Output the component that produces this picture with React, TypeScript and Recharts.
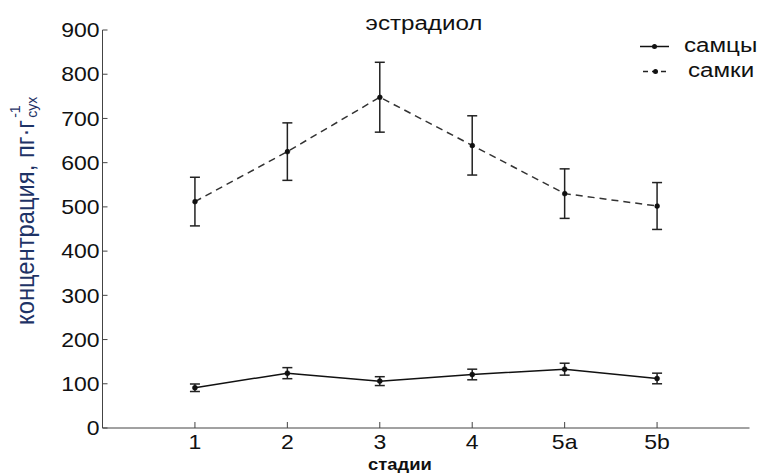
import React from 'react';
import { LineChart, Line, XAxis, YAxis, ErrorBar, Customized } from 'recharts';

// Estradiol concentration by developmental stage
const stages = ['1', '2', '3', '4', '5a', '5b'];
const malesMean = [91, 124, 106, 121, 133, 112];
const malesErr = [8.5, 12.5, 10, 12, 13.5, 12];
const femalesMean = [512, 625, 748, 639, 530, 502];
const femalesErr = [55, 65, 79, 67, 56, 53];
const yTicks = [0, 100, 200, 300, 400, 500, 600, 700, 800, 900];

const data = stages.map((s, i) => ({
  pos: i + 1,
  stage: s,
  males: malesMean[i],
  malesErr: malesErr[i],
  females: femalesMean[i],
  femalesErr: femalesErr[i],
}));

const FONT = 'Arial, "Liberation Sans", sans-serif';
const STRETCH = 1.15;
const AXIS = '#444';

const YTick = (props: any) => {
  const { x, y, payload } = props;
  return (
    <g>
      <line x1={x + 3} x2={x + 8} y1={y} y2={y} stroke={AXIS} strokeWidth={1} />
      <text
        transform={`translate(${x},${y}) scale(${STRETCH},1)`}
        textAnchor="end"
        dy="0.36em"
        fontSize={20}
        fontFamily={FONT}
        fill="#111"
      >
        {payload.value}
      </text>
    </g>
  );
};

const XTick = (props: any) => {
  const { x, y, payload } = props;
  const label = stages[payload.value - 1] ?? '';
  return (
    <g>
      <line x1={x} x2={x} y1={y} y2={y - 6} stroke={AXIS} strokeWidth={1} />
      <text
        transform={`translate(${x},${y + 21}) scale(${STRETCH},1)`}
        textAnchor="middle"
        fontSize={20}
        fontFamily={FONT}
        fill="#111"
      >
        {label}
      </text>
    </g>
  );
};

const Decorations = () => (
  <g>
    {/* title */}
    <text
      transform={`translate(424,29.5) scale(${STRETCH},1)`}
      textAnchor="middle"
      fontSize={21}
      fontFamily={FONT}
      fill="#111"
    >
      эстрадиол
    </text>

    {/* legend */}
    <line x1={640} x2={669} y1={46.5} y2={46.5} stroke="#111" strokeWidth={1.5} />
    <circle cx={654.5} cy={46.5} r={2.5} fill="#111" />
    <text
      transform={`translate(684,52) scale(${STRETCH},1)`}
      fontSize={21}
      fontFamily={FONT}
      fill="#111"
    >
      самцы
    </text>
    <line x1={643} x2={668} y1={71.5} y2={71.5} stroke="#222" strokeWidth={1.5} strokeDasharray="5 4" />
    <circle cx={655.5} cy={71.5} r={2.5} fill="#111" />
    <text
      transform={`translate(688,77) scale(${STRETCH},1)`}
      fontSize={21}
      fontFamily={FONT}
      fill="#111"
    >
      самки
    </text>

    {/* y axis title */}
    <g transform={`translate(34,120) rotate(-90) scale(1.08,${STRETCH})`} fontFamily={FONT} fill="#1e3366">
      <text x={0} y={0} textAnchor="end" fontSize={22}>
        концентрация, пг·г
      </text>
      <text x={2} y={-12} fontSize={13}>-1</text>
      <text x={2} y={3} fontSize={13}>сух</text>
    </g>

    {/* x axis title */}
    <text
      transform={`translate(400,470) scale(${STRETCH},1)`}
      textAnchor="middle"
      fontSize={16}
      fontWeight="bold"
      fontFamily={FONT}
      fill="#111"
    >
      стадии
    </text>
  </g>
);

export default function App() {
  return (
    <div style={{ position: 'absolute', left: 0, top: 0, width: 760, height: 475, background: '#fff' }}>
      <LineChart
        width={760}
        height={475}
        data={data}
        margin={{ top: 30, right: 10.5, bottom: 17, left: 0 }}
      >
        <XAxis
          dataKey="pos"
          type="number"
          domain={[0, 7]}
          ticks={[1, 2, 3, 4, 5, 6]}
          height={30}
          tickSize={0}
          tickMargin={0}
          tickLine={false}
          axisLine={{ stroke: AXIS, strokeWidth: 1 }}
          tick={<XTick />}
          interval={0}
        />
        <YAxis
          type="number"
          domain={[0, 900]}
          ticks={yTicks}
          width={102.5}
          tickSize={0}
          tickMargin={3}
          tickLine={false}
          axisLine={{ stroke: AXIS, strokeWidth: 1 }}
          tick={<YTick />}
          interval={0}
        />
        <Line
          dataKey="females"
          stroke="#333"
          strokeWidth={1.5}
          strokeDasharray="7 5"
          dot={{ r: 2.5, fill: '#111', stroke: '#111', strokeWidth: 0.5 }}
          isAnimationActive={false}
        >
          <ErrorBar dataKey="femalesErr" width={5} stroke="#222" strokeWidth={1.5} direction="y" />
        </Line>
        <Line
          dataKey="males"
          stroke="#111"
          strokeWidth={1.5}
          dot={{ r: 2.5, fill: '#111', stroke: '#111', strokeWidth: 0.5 }}
          isAnimationActive={false}
        >
          <ErrorBar dataKey="malesErr" width={5} stroke="#222" strokeWidth={1.5} direction="y" />
        </Line>
        <Customized component={Decorations} />
      </LineChart>
    </div>
  );
}
